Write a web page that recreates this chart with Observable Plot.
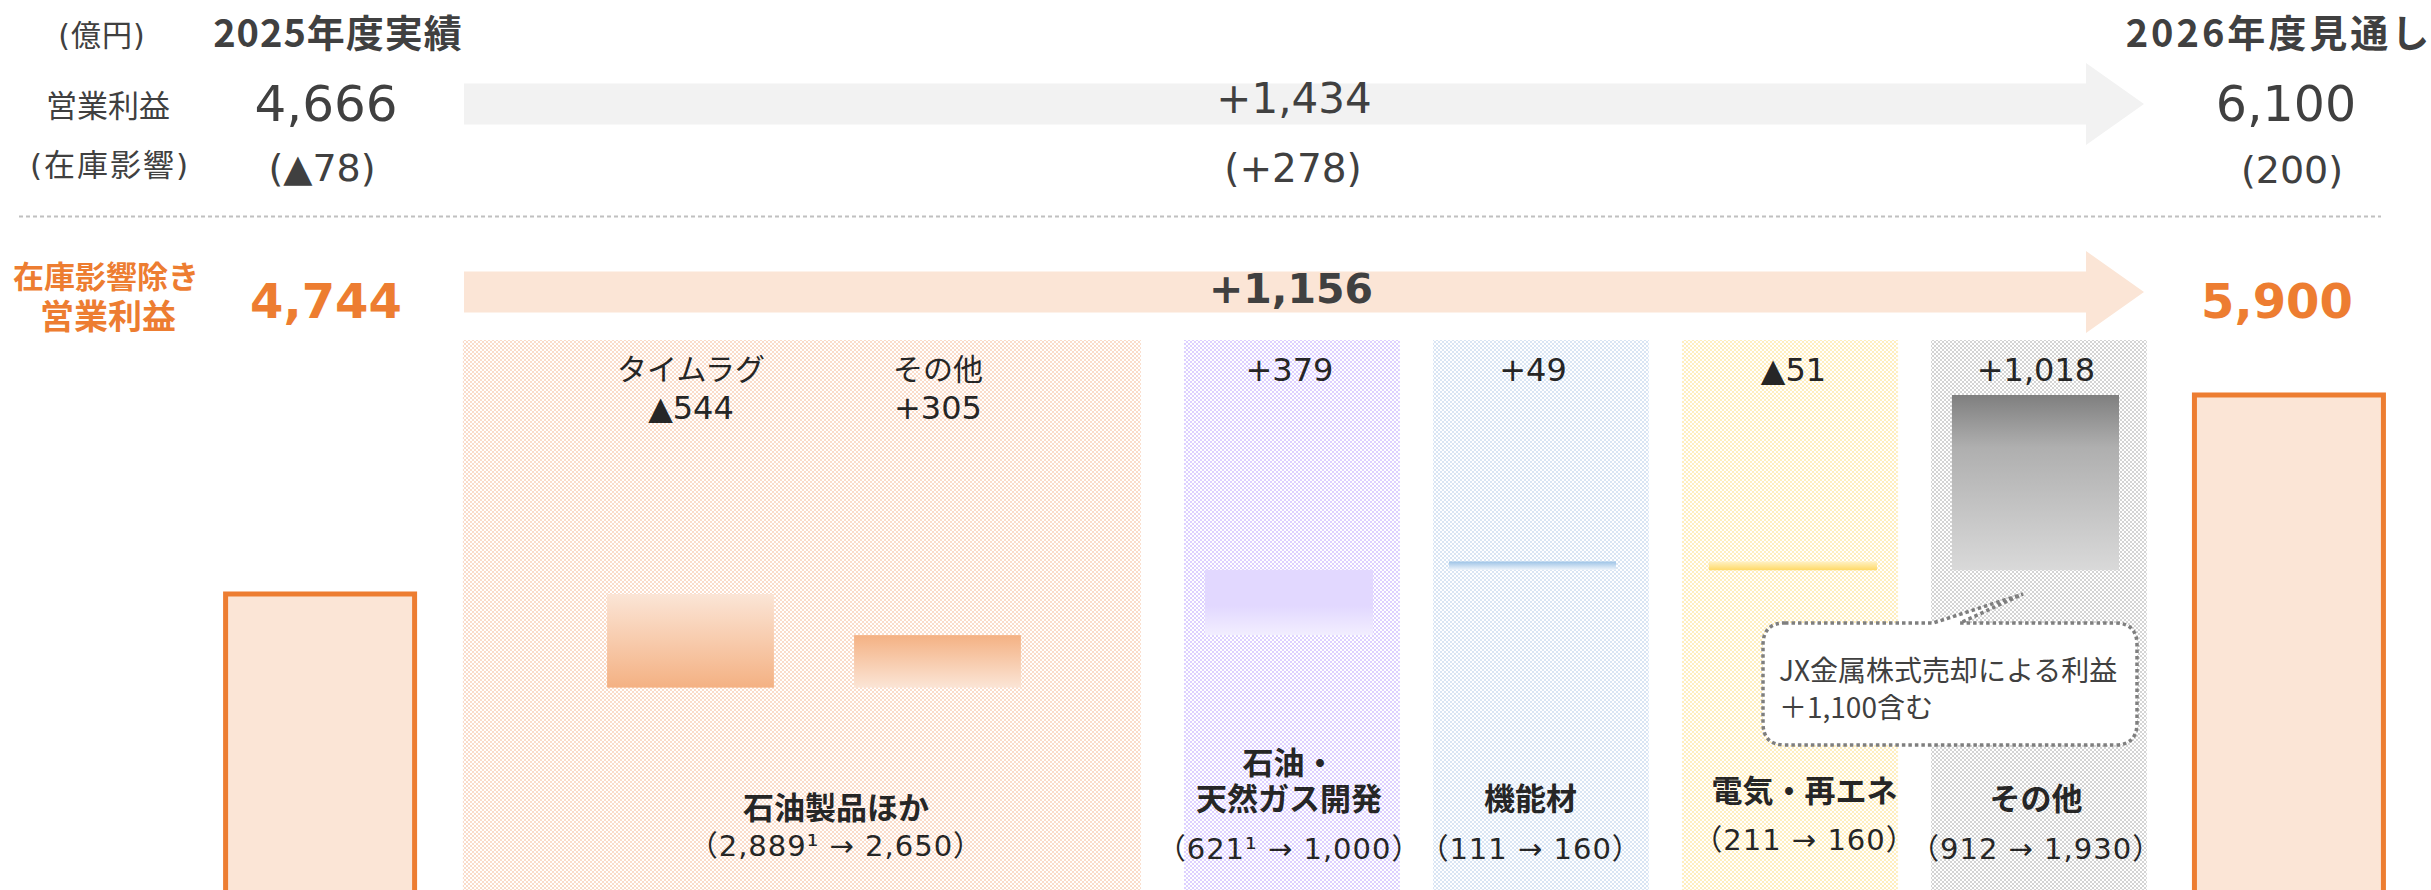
<!DOCTYPE html>
<html><head><meta charset="utf-8">
<script src="https://cdn.jsdelivr.net/npm/d3@7"></script>
<script src="https://cdn.jsdelivr.net/npm/@observablehq/plot@0.6"></script>
<style>
body{margin:0;background:#fff;}
#wrap{position:relative;width:2431px;height:890px;overflow:hidden;background:#fff}
#header{position:absolute;left:0;top:0;width:2431px;height:335px}
#header svg{position:absolute;left:0;top:0}
.t{position:absolute;white-space:nowrap;transform:translate(-50%,-50%);line-height:1;color:#404040;font-family:"DejaVu Sans","Noto Sans CJK JP",sans-serif}
#chart{position:absolute;left:0;top:335px}
</style></head>
<body><div id="wrap"><div id="header"></div><div id="chart"></div></div>
<script>
// ---------------- data ----------------
const unitLabel = "(億円)";
const periods = ["2025年度実績", "2026年度見通し"];
const rowLabels = ["営業利益", "(在庫影響)"];
const opProfit = [4666, 6100];
const invImpact = [-78, 200];
const exLabel = ["在庫影響除き", "営業利益"];
const exInvProfit = [4744, 5900];
const steps = ["タイムラグ", "その他", "石油・天然ガス開発", "機能材", "電気・再エネ", "その他"];
const deltas = [-544, 305, 379, 49, -51, 1018];
const segments = ["石油製品ほか", "石油・\n天然ガス開発", "機能材", "電気・再エネ", "その他"];
const segFrom = [2889, 621, 111, 211, 912];
const segTo = [2650, 1000, 160, 160, 1930];
const segFootnote = [1, 1, 0, 0, 0];
const note = ["JX金属株式売却による利益", "＋1,100含む"];

// ---------------- layout (slot units on the x scale) ----------------
const slot = {origin: 188, step: 249, count: 9};
const endSlots = [[0.151, 0.910], [8.058, 8.817]];
const barSlots = [[1.683, 2.353], [2.675, 3.345], [4.084, 4.759], [5.064, 5.735], [6.108, 6.783], [7.084, 7.755]];
const segSlots = [[1.104, 3.827], [4, 4.867], [5, 5.867], [6, 6.867], [7, 7.867]];
const labelSlots = [2.6, 4.42, 5.39, 6.49, 7.42];
const nameY = [809, 800, 800, 792, 800];
const parenY = [846, 849, 849, 840, 849];
const patternColors = ["#FADCCA", "#DDD1FF", "#D9E5F4", "#FFEEBE", "#D4D4D4"];
const gradStops = [
  [[0, "#FBE5D6"], [1, "#F4B183"]],
  [[0, "#F4B183"], [1, "#FBE5D6"]],
  [[0, "#E2D8FF"], [0.55, "#E2D8FF"], [1, "#F2EEFF"]],
  [[0, "#9DC3E6"], [1, "#EEF4FB"]],
  [[0, "#FFF1C4"], [1, "#FFD966"]],
  [[0, "#7F7F7F"], [0.3, "#AFAFAF"], [1, "#D9D9D9"]]
];
const ORANGE = "#ED7D31";

// ---------------- derived tables ----------------
const fmt = d3.format(",");
const signed = v => (v < 0 ? "▲" : "+") + fmt(Math.abs(v));
const paren = v => "(" + (v < 0 ? "▲" + fmt(-v) : fmt(v)) + ")";

let cum = exInvProfit[0];
const stepRows = steps.map((name, i) => {
  const y1 = cum, y2 = cum + deltas[i];
  cum = y2;
  return {name, delta: deltas[i], y1, y2, x1: barSlots[i][0], x2: barSlots[i][1], cx: (barSlots[i][0] + barSlots[i][1]) / 2};
});
const endRows = exInvProfit.map((v, i) => ({value: v, x1: endSlots[i][0], x2: endSlots[i][1]}));
const segTable = segments.map((name, i) => ({
  name, x1: segSlots[i][0], x2: segSlots[i][1], cx: labelSlots[i],
  paren: `（${fmt(segFrom[i])}${segFootnote[i] ? "¹" : ""} → ${fmt(segTo[i])}）`
}));
// one row per label line (multi-line names are stacked upward)
const LINE = 36;
const nameLines = segTable.flatMap((d, i) => {
  const parts = d.name.split("\n");
  return parts.map((t, j) => ({cx: d.cx, text: t, py: nameY[i] - (parts.length - 1 - j) * LINE}));
});

// ---------------- header (HTML) ----------------
const header = document.getElementById("header");
const hs = d3.select(header).append("svg").attr("width", 2431).attr("height", 335);
function arrow(cy, fill) {
  const bx0 = 464, bx1 = 2086, tip = 2144, bh = 20.5, hh = 41;
  hs.append("polygon").attr("fill", fill).attr("points",
    [[bx0, cy - bh], [bx1, cy - bh], [bx1, cy - hh], [tip, cy], [bx1, cy + hh], [bx1, cy + bh], [bx0, cy + bh]].join(" "));
}
arrow(104, "#F2F2F2");
arrow(292, "#FBE5D6");
hs.append("line").attr("x1", 19).attr("x2", 2381).attr("y1", 216.5).attr("y2", 216.5)
  .attr("stroke", "#C0C0C0").attr("stroke-width", 2).attr("stroke-dasharray", "4 3");

function txt(s, cx, cy, st) {
  const d = document.createElement("div");
  d.className = "t";
  d.textContent = s;
  d.style.left = cx + "px";
  d.style.top = cy + "px";
  Object.assign(d.style, st);
  header.appendChild(d);
}
txt(unitLabel, 102, 36, {fontSize: "30px", letterSpacing: "1px"});
txt(periods[0], 338, 31, {fontFamily: "'Noto Sans CJK JP'", fontWeight: 700, fontSize: "38px", letterSpacing: "1px"});
txt(periods[1], 2279, 31, {fontFamily: "'Noto Sans CJK JP'", fontWeight: 700, fontSize: "38px", letterSpacing: "3px"});
txt(rowLabels[0], 108, 103, {fontFamily: "'Noto Sans CJK JP'", fontSize: "31px"});
txt(rowLabels[1], 110, 165, {fontSize: "31px", letterSpacing: "2px"});
txt(fmt(opProfit[0]), 326, 104, {fontSize: "50px"});
txt(fmt(opProfit[1]), 2286, 104, {fontSize: "49px"});
txt(paren(invImpact[0]), 322, 168, {fontSize: "38px"});
txt(paren(invImpact[1]), 2292, 170, {fontSize: "38px"});
txt("+" + fmt(opProfit[1] - opProfit[0]), 1294, 99, {fontSize: "42px"});
txt("(+" + fmt(invImpact[1] - invImpact[0]) + ")", 1293, 168, {fontSize: "39px"});
txt(exLabel[0], 106, 274, {fontFamily: "'Noto Sans CJK JP'", fontWeight: 700, fontSize: "31px", color: ORANGE});
txt(exLabel[1], 108, 315, {fontFamily: "'Noto Sans CJK JP'", fontWeight: 700, fontSize: "34px", color: ORANGE});
txt(fmt(exInvProfit[0]), 326, 301, {fontWeight: 700, fontSize: "48px", color: ORANGE});
txt(fmt(exInvProfit[1]), 2277, 301, {fontWeight: 700, fontSize: "48px", color: ORANGE});
txt("+" + fmt(exInvProfit[1] - exInvProfit[0]), 1291, 289, {fontWeight: 700, fontSize: "41px"});

// ---------------- chart (Plot) ----------------
const plotH = 555;
const TOP = 335, BOTTOM = 890;
const CJK = "'Noto Sans CJK JP', sans-serif";
const LAT = "'DejaVu Sans', 'Noto Sans CJK JP', sans-serif";
const INK = "#262626";

const chart = Plot.plot({
  width: 2431,
  height: plotH,
  margin: 0,
  x: {domain: [0, slot.count], range: [slot.origin, slot.origin + slot.count * slot.step], axis: null},
  y: {domain: [3024.5, 6248.5], axis: null},
  style: {fontFamily: CJK, background: "transparent"},
  marks: [
    ...segTable.map((d, i) => Plot.rect([d], {x1: "x1", x2: "x2", insetTop: 5, fill: `url(#pat${i})`})),
    Plot.rect(endRows, {x1: "x1", x2: "x2", y1: 0, y2: "value", fill: "#FBE5D6", stroke: ORANGE, strokeWidth: 5, clip: true}),
    ...stepRows.map((d, i) => Plot.rect([d], {x1: "x1", x2: "x2", y1: "y1", y2: "y2", fill: `url(#grad${i})`})),
    // labels above bars
    Plot.text(stepRows.slice(0, 2), {x: "cx", text: "name", frameAnchor: "top", lineAnchor: "middle", dy: 370 - TOP, fontSize: 30, fontFamily: CJK, fill: INK}),
    Plot.text(stepRows.slice(0, 2), {x: "cx", text: d => signed(d.delta), frameAnchor: "top", lineAnchor: "middle", dy: 408 - TOP, fontSize: 32, fontFamily: LAT, fill: INK}),
    Plot.text(stepRows.slice(2), {x: "cx", text: d => signed(d.delta), frameAnchor: "top", lineAnchor: "middle", dy: 370 - TOP, fontSize: 32, fontFamily: LAT, fill: INK}),
    // segment labels
    ...nameLines.map(d => Plot.text([d], {x: "cx", text: "text", frameAnchor: "bottom", lineAnchor: "middle", dy: d.py - BOTTOM, fontSize: 31, fontWeight: 700, fontFamily: CJK, fill: INK})),
    ...segTable.map((d, i) => Plot.text([d], {x: "cx", text: "paren", frameAnchor: "bottom", lineAnchor: "middle", dy: parenY[i] - BOTTOM, fontSize: 29, fontFamily: LAT, fill: INK, style: {letterSpacing: "1px"}}))
  ]
});
document.getElementById("chart").appendChild(chart);

// defs: patterns & gradients
const svg = d3.select(chart);
svg.selectAll("text").filter(function() { return /→/.test(this.textContent); }).attr("letter-spacing", "1px");
const defs = svg.insert("defs", ":first-child");
patternColors.forEach((c, i) => {
  const p = defs.append("pattern").attr("id", `pat${i}`).attr("width", 4).attr("height", 4).attr("patternUnits", "userSpaceOnUse");
  p.append("rect").attr("width", 4).attr("height", 4).attr("fill", "#fff");
  p.append("rect").attr("width", 2).attr("height", 2).attr("fill", c);
  p.append("rect").attr("x", 2).attr("y", 2).attr("width", 2).attr("height", 2).attr("fill", c);
});
gradStops.forEach((stops, i) => {
  const g = defs.append("linearGradient").attr("id", `grad${i}`).attr("x1", 0).attr("y1", 0).attr("x2", 0).attr("y2", 1);
  stops.forEach(([o, c]) => g.append("stop").attr("offset", o).attr("stop-color", c));
});

// callout annotation (page coords shifted into the svg)
const oy = -TOP;
const L = 1763, R = 2137, T = 623 + oy, B = 745 + oy, r = 22;
const path = `M${L + r},${T} L1933,${T} L2023,${594 + oy} L1960,${T} L${R - r},${T} Q${R},${T} ${R},${T + r} L${R},${B - r} Q${R},${B} ${R - r},${B} L${L + r},${B} Q${L},${B} ${L},${B - r} L${L},${T + r} Q${L},${T} ${L + r},${T} Z`;
const ann = svg.append("g");
ann.append("path").attr("d", path).attr("fill", "#fff").attr("stroke", "#7F7F7F").attr("stroke-width", 3.5).attr("stroke-dasharray", "3.5 3");
note.forEach((s, i) => {
  ann.append("text").attr("x", 1779).attr("y", [669, 706][i] + oy).attr("dominant-baseline", "central")
    .attr("text-anchor", "start")
    .attr("font-family", CJK).attr("font-size", 28).attr("fill", "#404040").text(s);
});
</script>
</body></html>
